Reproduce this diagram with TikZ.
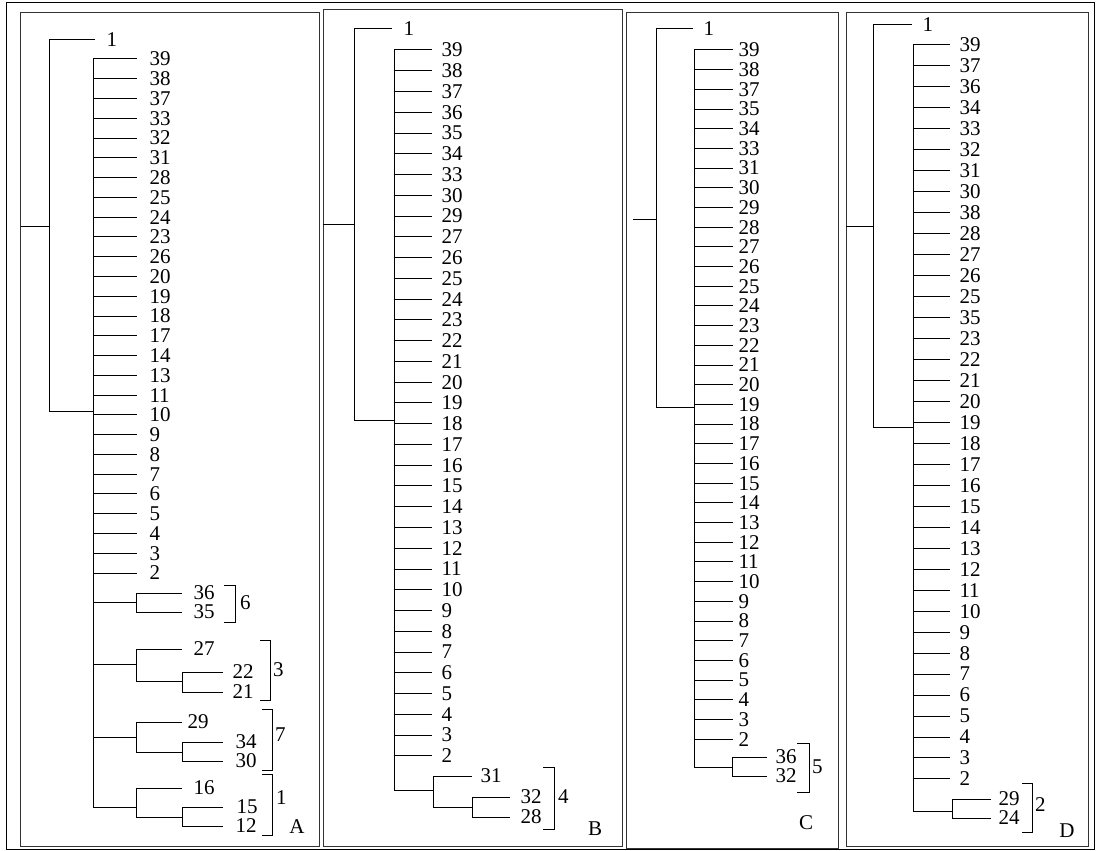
\documentclass[tikz,border=0pt]{standalone}
\usepackage{fontspec}
\setmainfont{Liberation Serif}
\usetikzlibrary{positioning}
\tikzset{
  branch/.style={line width=1pt},
  panel/.style={draw=black!80,line width=1pt},
  lbl/.style={font=\fontsize{21}{21}\selectfont,inner sep=0pt,anchor=west},
  tag/.style={font=\fontsize{21}{21}\selectfont,inner sep=0pt},
}
\begin{document}
\begin{tikzpicture}[x=1pt,y=-1pt]
\useasboundingbox (0,0) rectangle (1096,851);
\draw[line width=1pt] (6,3) rectangle (1094,849);
% panels
\draw[panel] (20,13) rectangle (319,846);
\draw[panel] (323,10) rectangle (622,846);
\draw[panel] (626,13) rectangle (838,848);
\draw[panel] (846,13) rectangle (1088,846);

% ---- A ----
\draw[branch] (21,226) -- (49,226);
\draw[branch] (49,40) -- (49,411) -- (93,411);
\draw[branch] (49,40) -- (95,40) node[lbl,right=11pt] (A1) {1};
\draw[branch] (93,59) -- (93,807);
\foreach \lab [count=\i from 0] in {39,38,37,33,32,31,28,25,24,23,26,20,19,18,17,14,13,11,10,9,8,7,6,5,4,3,2}
  \draw[branch] (93,{59+19.77*\i}) -- (137,{59+19.77*\i}) node[lbl,right=12pt] (A\lab) {\lab};
% cluster 6
\draw[branch] (93,602) -- (136,602) (136,593) -- (136,612);
\draw[branch] (136,593) -- (182,593) node[lbl,right=11pt] (A36) {36};
\draw[branch] (136,612) -- (182,612) node[lbl,right=11pt] (A35) {35};
\draw[branch] (224,585) -- (235,585) -- (235,622) -- (224,622);
\node[lbl] (gA6) at (240,603) {6};
% cluster 3
\draw[branch] (93,664) -- (136,664) (136,649) -- (136,681) -- (182,681) (182,672) -- (182,692);
\draw[branch] (136,649) -- (182,649) node[lbl,right=11pt] (A27) {27};
\draw[branch] (182,672) -- (223,672) node[lbl,right=9pt] (A22) {22};
\draw[branch] (182,692) -- (223,692) node[lbl,right=9pt] (A21) {21};
\draw[branch] (260,640) -- (270,640) -- (270,700) -- (260,700);
\node[lbl] (gA3) at (273,670) {3};
% cluster 7
\draw[branch] (93,737) -- (136,737) (136,722) -- (136,752) -- (182,752) (182,742) -- (182,761);
\draw[branch] (136,722) -- (182,722) node[lbl,right=5pt] (A29) {29};
\draw[branch] (182,742) -- (223,742) node[lbl,right=12pt] (A34) {34};
\draw[branch] (182,761) -- (223,761) node[lbl,right=12pt] (A30) {30};
\draw[branch] (262,709) -- (272,709) -- (272,770) -- (262,770);
\node[lbl] (gA7) at (275,735) {7};
% cluster 1
\draw[branch] (93,807) -- (136,807) (136,788) -- (136,817) -- (182,817) (182,807) -- (182,826);
\draw[branch] (136,788) -- (182,788) node[lbl,right=11pt] (A16) {16};
\draw[branch] (182,807) -- (223,807) node[lbl,right=13pt] (A15) {15};
\draw[branch] (182,826) -- (223,826) node[lbl,right=12pt] (A12) {12};
\draw[branch] (262,774) -- (272,774) -- (272,835) -- (262,835);
\node[lbl] (gA1) at (276,798) {1};
\node[tag] (tagA) at (297,827) {A};

% ---- B ----
\draw[branch] (323,224) -- (354,224);
\draw[branch] (354,29) -- (354,420) -- (394,420);
\draw[branch] (354,29) -- (392,29) node[lbl,right=11pt] (B1) {1};
\draw[branch] (394,50) -- (394,790);
\foreach \lab [count=\i from 0] in {39,38,37,36,35,34,33,30,29,27,26,25,24,23,22,21,20,19,18,17,16,15,14,13,12,11,10,9,8,7,6,5,4,3,2}
  \draw[branch] (394,{50+20.76*\i}) -- (432,{50+20.76*\i}) node[lbl,right=9pt] (B\lab) {\lab};
% cluster 4
\draw[branch] (394,790) -- (433,790) (433,776) -- (433,807) -- (472,807) (472,797) -- (472,817);
\draw[branch] (433,776) -- (472,776) node[lbl,right=8pt] (B31) {31};
\draw[branch] (472,797) -- (510,797) node[lbl,right=10pt] (B32) {32};
\draw[branch] (472,817) -- (510,817) node[lbl,right=10pt] (B28) {28};
\draw[branch] (543,767) -- (554,767) -- (554,829) -- (543,829);
\node[lbl] (gB4) at (558,797) {4};
\node[tag] (tagB) at (595,829) {B};

% ---- C ----
\draw[branch] (633,219) -- (656,219);
\draw[branch] (656,29) -- (656,407) -- (694,407);
\draw[branch] (656,29) -- (693,29) node[lbl,right=10pt] (C1) {1};
\draw[branch] (694,50) -- (694,767);
\foreach \lab [count=\i from 0] in {39,38,37,35,34,33,31,30,29,28,27,26,25,24,23,22,21,20,19,18,17,16,15,14,13,12,11,10,9,8,7,6,5,4,3,2}
  \draw[branch] (694,{50+19.69*\i}) -- (733,{50+19.69*\i}) node[lbl,right=5pt] (C\lab) {\lab};
% cluster 5
\draw[branch] (694,767) -- (732,767) (732,757) -- (732,776);
\draw[branch] (732,757) -- (767,757) node[lbl,right=8pt] (C36) {36};
\draw[branch] (732,776) -- (767,776) node[lbl,right=8pt] (C32) {32};
\draw[branch] (797,743) -- (809,743) -- (809,792) -- (797,792);
\node[lbl] (gC5) at (812,767) {5};
\node[tag] (tagC) at (806,823) {C};

% ---- D ----
\draw[branch] (846,226) -- (873,226);
\draw[branch] (873,25) -- (873,427) -- (913,427);
\draw[branch] (873,25) -- (912,25) node[lbl,right=10pt] (D1) {1};
\draw[branch] (913,45) -- (913,811);
\foreach \lab [count=\i from 0] in {39,37,36,34,33,32,31,30,38,28,27,26,25,35,23,22,21,20,19,18,17,16,15,14,13,12,11,10,9,8,7,6,5,4,3,2}
  \draw[branch] (913,{45+20.97*\i}) -- (950,{45+20.97*\i}) node[lbl,right=9pt] (D\lab) {\lab};
% cluster 2
\draw[branch] (913,811) -- (952,811) (952,799) -- (952,818);
\draw[branch] (952,799) -- (991,799) node[lbl,right=7pt] (D29) {29};
\draw[branch] (952,818) -- (991,818) node[lbl,right=7pt] (D24) {24};
\draw[branch] (1022,783) -- (1032,783) -- (1032,832) -- (1022,832);
\node[lbl] (gD2) at (1035,805) {2};
\node[tag] (tagD) at (1067,831) {D};
\end{tikzpicture}
\end{document}
